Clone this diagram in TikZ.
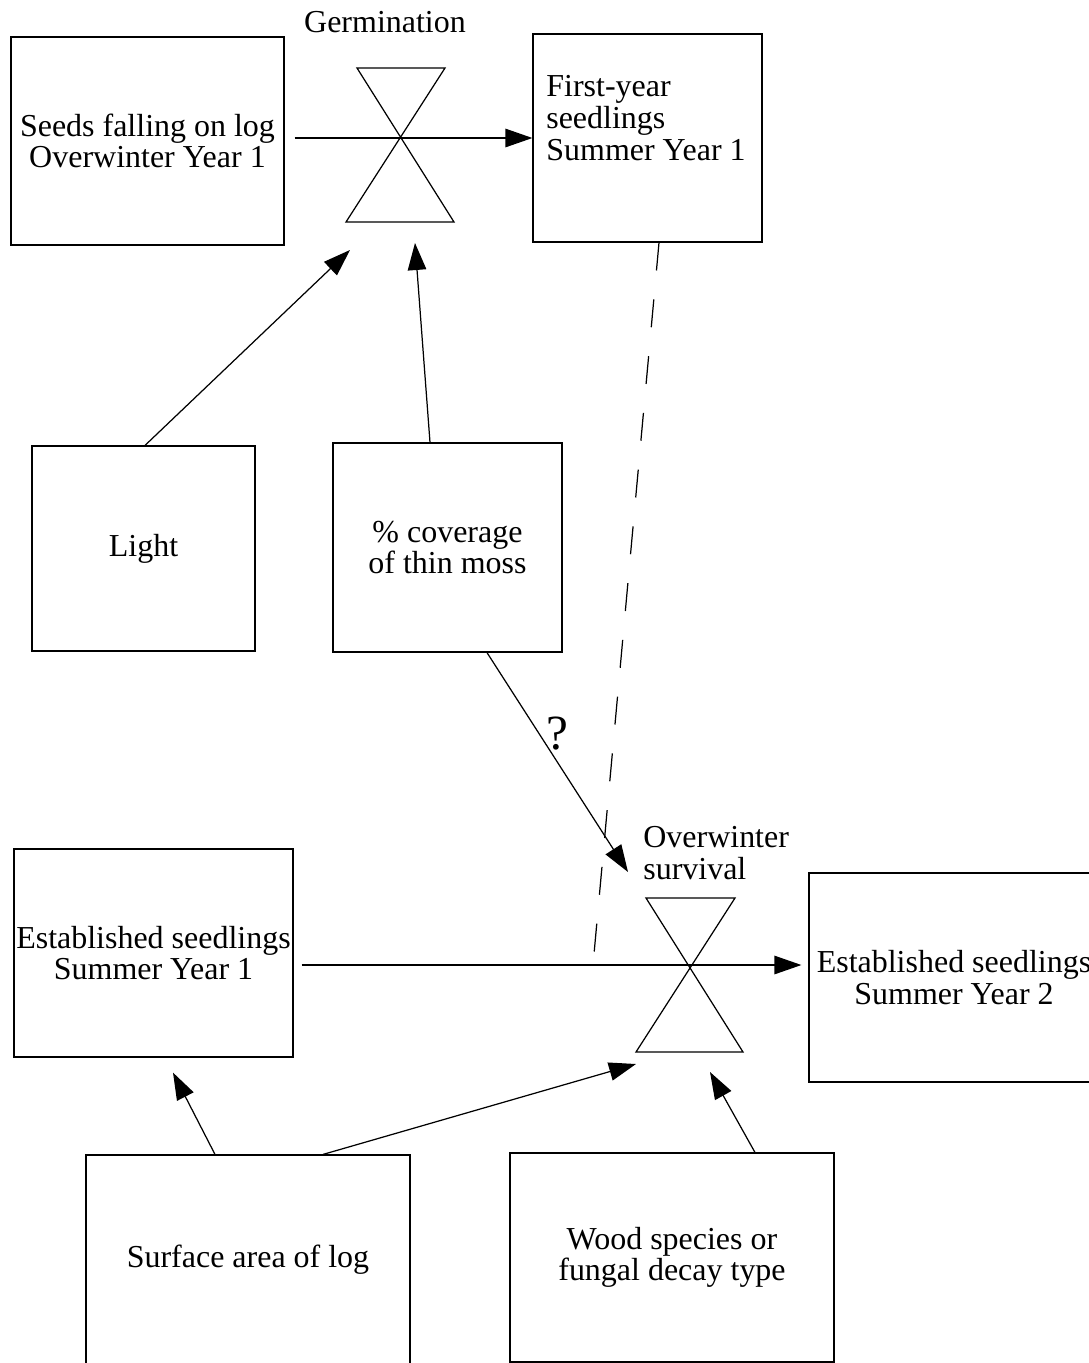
\documentclass[tikz,border=0pt]{standalone}
\usepackage{fontspec}
\setmainfont{Liberation Serif}
\usetikzlibrary{positioning, arrows.meta}

\begin{document}
\begin{tikzpicture}[x=0.02cm, y=-0.02cm,
  box/.style={rectangle, draw, line width=0.7pt, inner sep=1pt, align=center, font=\fontsize{18.2}{18}\selectfont},
  lbl/.style={inner sep=0pt, font=\fontsize{18.2}{18}\selectfont},
  flow/.style={line width=0.7pt, -{Triangle[length=0.54cm, width=0.37cm]}},
  glass/.style={line width=0.7pt}]
\useasboundingbox (0,0) rectangle (1089,1363);

% Stocks and factors
\node[box, minimum width=5.46cm, minimum height=4.16cm] (seeds) at (147.5,141) {Seeds falling on log\\ Overwinter Year 1};
\node[box, minimum width=4.58cm, minimum height=4.16cm] (first) at (647.5,138) {};
\node[lbl, align=left, anchor=west] (firsttxt) at (546,118) {First-year\\ seedlings\\ Summer Year 1};
\node[box, minimum width=4.46cm, minimum height=4.10cm] (light) at (143.5,548.5) {Light};
\node[box, minimum width=4.58cm, minimum height=4.18cm] (moss) at (447.5,547.5) {\% coverage\\ of thin moss};
\node[box, minimum width=5.58cm, minimum height=4.16cm] (est1) at (153.5,953) {Established seedlings\\ Summer Year 1};
\node[box, minimum width=5.80cm, minimum height=4.18cm] (est2) at (954,977.5) {Established seedlings\\ Summer Year 2};
\node[box, minimum width=6.48cm, minimum height=4.20cm] (surf) at (248,1260) {Surface area of log};
\node[box, minimum width=6.48cm, minimum height=4.18cm] (wood) at (672,1257.5) {Wood species or\\ fungal decay type};

% Valves
\coordinate (g1) at (400,138);
\coordinate (g2) at (689,965);
\draw[glass] (g1) +(-43,-70) -- +(45,-70) -- +(-54,84) -- +(54,84) -- cycle;
\draw[glass] (g2) +(-43,-67) -- +(46,-67) -- +(-53,87) -- +(54,87) -- cycle;
\node[lbl] (germ) at (385,22) {Germination};
\node[lbl, align=left, anchor=west] (surv) at (643,853) {Overwinter\\ survival};

% Arrow ends
\coordinate (g1l) at (350,250);
\coordinate (g1m) at (415,243);
\coordinate (g2m) at (628,872);
\coordinate (g2d) at (593,965);
\coordinate (g2s) at (636,1064);
\coordinate (g2w) at (710,1072);

% Flows
\draw[flow] ([xshift=0.2cm]seeds.east |- g1) -- (first.west |- g1);
\draw[flow] ([xshift=0.16cm]est1.east |- g2) -- ([xshift=-0.14cm]est2.west |- g2);

% Influences
\draw[flow] ([xshift=0.03cm]light.north) -- (g1l);
\draw[flow] ([xshift=-0.35cm]moss.north) -- (g1m);
\draw[flow] ([xshift=0.79cm]moss.south) -- node[pos=0.37, right=0.14cm, inner sep=0pt, font=\fontsize{28}{30}\selectfont] {?} (g2m);
\draw[line width=0.7pt, dash pattern=on 0.56cm off 0.58cm] ([xshift=0.23cm]first.south) -- (g2d);
\draw[flow] ([xshift=-0.66cm]surf.north) -- ([shift={(19.5,15)}]est1.south);
\draw[flow] ([xshift=1.5cm]surf.north) -- (g2s);
\draw[flow] ([xshift=1.66cm]wood.north) -- (g2w);

\end{tikzpicture}
\end{document}
